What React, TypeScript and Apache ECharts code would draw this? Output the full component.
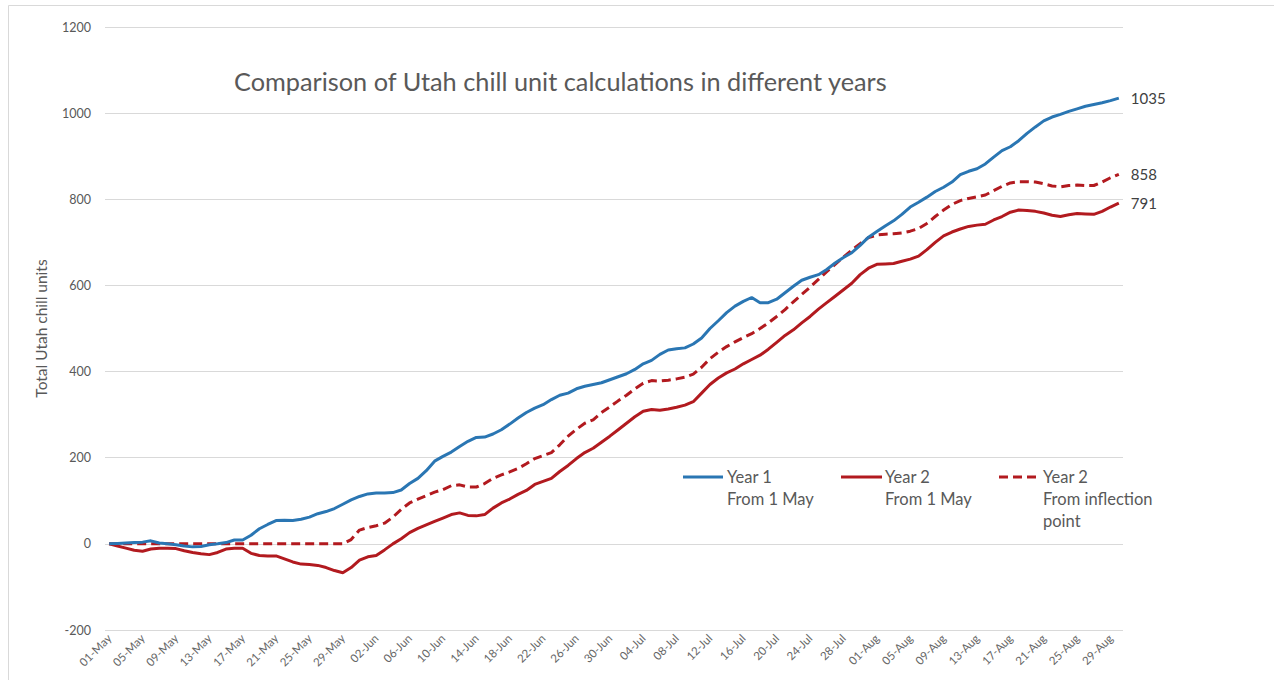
import React, { useEffect, useRef } from "react";
import * as echarts from "echarts";

const monthNames = ["May", "Jun", "Jul", "Aug"];
const monthDays = [31, 30, 31, 30];

const categories: string[] = [];
monthNames.forEach((m, i) => {
  for (let d = 1; d <= monthDays[i]; d++) {
    categories.push(`${d < 10 ? "0" + d : d}-${m}`);
  }
});

const year1FromMay = [
  0, 1, 2, 3, 4, 7, 2, 0, -2, -5, -7, -6, -2, 0, 3, 9, 9, 20, 35, 45,
  54, 55, 54, 57, 62, 70, 75, 82, 92, 102, 110, 116, 118, 118, 119, 125, 140, 152, 170, 192,
  203, 213, 226, 238, 247, 248, 255, 265, 278, 292, 305, 315, 323, 335, 345, 350, 360, 366, 370, 374,
  381, 388, 395, 405, 418, 426, 440, 450, 453, 455, 464, 478, 500, 518, 537, 552, 563, 572, 560, 560,
  568, 583, 598, 612, 619, 625, 637, 652, 665, 676, 693, 712, 725, 738, 750, 765, 782, 793, 805, 818,
  828, 840, 857, 865, 871, 882, 898, 913, 922, 936, 953, 968, 982, 991, 997, 1004, 1010, 1016, 1020, 1024,
  1029, 1035,
];

const year2FromMay = [
  0, -5, -10, -15, -17, -12, -10, -10, -11, -16, -20, -23, -25, -20, -12, -10, -10, -22, -27, -28,
  -28, -35, -42, -47, -48, -50, -55, -62, -67, -55, -38, -30, -27, -14, 0, 12, 26, 36, 44, 52,
  60, 68, 72, 66, 65, 68, 83, 95, 104, 115, 124, 138, 145, 152, 168, 182, 198, 212, 222, 236,
  250, 265, 280, 295, 308, 312, 310, 313, 317, 322, 330, 350, 370, 385, 397, 406, 418, 428, 438, 452,
  468, 484, 497, 513, 528, 545, 560, 575, 590, 605, 625, 640, 649, 650, 651, 656, 661, 668, 683, 700,
  715, 724, 731, 737, 740, 742, 752, 760, 770, 775, 774, 772, 768, 763, 760, 764, 767, 766, 765, 772,
  782, 791,
];

const year2FromInflection = [
  0, 0, 0, 0, 0, 0, 0, 0, 0, 0, 0, 0, 0, 0, 0, 0, 0, 0, 0, 0,
  0, 0, 0, 0, 0, 0, 0, 0, 0, 10, 32, 38, 42, 48, 62, 80, 95, 104, 112, 120,
  126, 135, 137, 132, 132, 140, 152, 160, 167, 175, 186, 198, 205, 212, 230, 250, 266, 280, 288, 305,
  318, 332, 345, 360, 373, 379, 378, 380, 383, 387, 394, 410, 430, 445, 458, 469, 479, 488, 500, 513,
  528, 544, 562, 579, 596, 614, 632, 649, 666, 682, 697, 711, 717, 719, 720, 722, 726, 732, 744, 760,
  775, 788, 797, 802, 806, 810, 820, 830, 838, 841, 841, 840, 836, 831, 829, 832, 833, 832, 832, 840,
  850, 858,
];

const yTicks = { min: -200, max: 1200, interval: 200 };

const BLUE = "#2a76b3";
const RED = "#b21a1f";
const TEXT = "#595959";
const FONT = "Lato, 'Open Sans', sans-serif";

export default function App() {
  const ref = useRef<HTMLDivElement>(null);
  useEffect(() => {
    if (!ref.current) return;
    const chart = echarts.init(ref.current, undefined, { renderer: "svg" });
    const endLabel = {
      show: true,
      formatter: (p: any) => String(p.value),
      color: "#404040",
      fontSize: 15,
      fontFamily: FONT,
      distance: 12,
    };
    const legendText = {
      fill: TEXT,
      fontSize: 16.5,
      fontFamily: FONT,
      lineHeight: 22,
      verticalAlign: "top",
    };
    chart.setOption({
      animation: false,
      backgroundColor: "#ffffff",
      textStyle: { fontFamily: FONT },
      title: {
        text: "Comparison of Utah chill unit calculations in different years",
        left: 229,
        top: 63,
        textStyle: { color: TEXT, fontSize: 25.3, fontWeight: "normal", fontFamily: FONT },
      },
      grid: { left: 105, right: 151, top: 27, bottom: 50, containLabel: false },
      xAxis: {
        type: "category",
        data: categories,
        boundaryGap: true,
        axisLine: { show: false },
        axisTick: { show: false },
        axisLabel: {
          interval: 3,
          rotate: 45,
          color: "#666666",
          fontSize: 11.5,
          margin: 6,
          fontFamily: FONT,
        },
        splitLine: { show: false },
      },
      yAxis: {
        type: "value",
        min: yTicks.min,
        max: yTicks.max,
        interval: yTicks.interval,
        name: "Total Utah chill units",
        nameLocation: "middle",
        nameGap: 56,
        nameTextStyle: { color: TEXT, fontSize: 15.5, fontFamily: FONT },
        axisLine: { show: false },
        axisTick: { show: false },
        axisLabel: {
          color: TEXT,
          fontSize: 12.5,
          margin: 14,
          fontFamily: FONT,
          formatter: (v: number) => String(v),
        },
        splitLine: { lineStyle: { color: "#d9d9d9", width: 1 } },
      },
      series: [
        {
          name: "Year 1 From 1 May",
          type: "line",
          data: year1FromMay,
          showSymbol: false,
          symbol: "none",
          lineStyle: { color: BLUE, width: 3 },
          itemStyle: { color: BLUE },
          endLabel,
          z: 3,
        },
        {
          name: "Year 2 From 1 May",
          type: "line",
          data: year2FromMay,
          showSymbol: false,
          symbol: "none",
          lineStyle: { color: RED, width: 3 },
          itemStyle: { color: RED },
          endLabel,
          z: 2,
        },
        {
          name: "Year 2 From inflection point",
          type: "line",
          data: year2FromInflection,
          showSymbol: false,
          symbol: "none",
          lineStyle: { color: RED, width: 3, type: [9, 5] },
          itemStyle: { color: RED },
          endLabel,
          z: 2,
        },
      ],
      graphic: [
        {
          type: "rect",
          shape: { x: 8.5, y: 5.5, width: 1400, height: 800 },
          style: { fill: "none", stroke: "#d9d9d9", lineWidth: 1 },
          silent: true,
        },
        {
          type: "line",
          shape: { x1: 683, y1: 477, x2: 723, y2: 477 },
          style: { stroke: BLUE, lineWidth: 3 },
        },
        {
          type: "text",
          x: 727,
          y: 466,
          style: { text: "Year 1\nFrom 1 May", ...legendText },
        },
        {
          type: "line",
          shape: { x1: 841, y1: 477, x2: 882, y2: 477 },
          style: { stroke: RED, lineWidth: 3 },
        },
        {
          type: "text",
          x: 885,
          y: 466,
          style: { text: "Year 2\nFrom 1 May", ...legendText },
        },
        {
          type: "line",
          shape: { x1: 999, y1: 477, x2: 1038, y2: 477 },
          style: { stroke: RED, lineWidth: 3, lineDash: [9, 5] },
        },
        {
          type: "text",
          x: 1043,
          y: 466,
          style: { text: "Year 2\nFrom inflection\npoint", ...legendText },
        },
      ],
    });
    return () => chart.dispose();
  }, []);
  return (
    <div
      ref={ref}
      style={{ position: "fixed", left: 0, top: 0, width: 1274, height: 680 }}
    />
  );
}
